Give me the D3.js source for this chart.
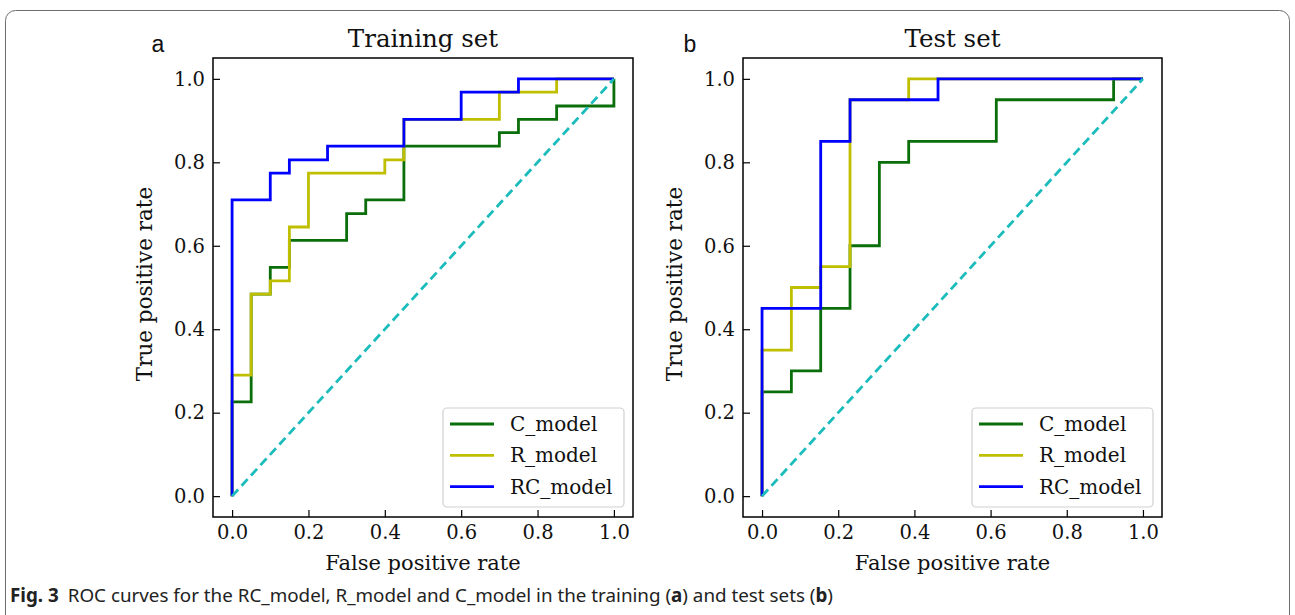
<!DOCTYPE html>
<html>
<head>
<meta charset="utf-8">
<script src="https://cdn.jsdelivr.net/npm/d3@7"></script>
<style>
  body { margin: 0; background: #fff; }
  svg { display: block; }
</style>
</head>
<body>
<div id="chart"></div>
<script>
// ROC points (fpr, tpr corners of each step curve)
var trainC_fpr = [0, 0, 0.05, 0.05, 0.1, 0.1, 0.15, 0.15, 0.3, 0.3, 0.35, 0.35, 0.45, 0.45, 0.7, 0.7, 0.75, 0.75, 0.85, 0.85, 1, 1];
var trainC_tpr = [0, 0.226, 0.226, 0.484, 0.484, 0.548, 0.548, 0.613, 0.613, 0.677, 0.677, 0.71, 0.71, 0.839, 0.839, 0.871, 0.871, 0.903, 0.903, 0.935, 0.935, 1];
var trainR_fpr = [0, 0, 0.05, 0.05, 0.1, 0.1, 0.15, 0.15, 0.2, 0.2, 0.4, 0.4, 0.45, 0.45, 0.7, 0.7, 0.85, 0.85, 1];
var trainR_tpr = [0, 0.29, 0.29, 0.484, 0.484, 0.516, 0.516, 0.645, 0.645, 0.774, 0.774, 0.806, 0.806, 0.903, 0.903, 0.968, 0.968, 1, 1];
var trainRC_fpr = [0, 0, 0.1, 0.1, 0.15, 0.15, 0.25, 0.25, 0.45, 0.45, 0.6, 0.6, 0.75, 0.75, 1];
var trainRC_tpr = [0, 0.71, 0.71, 0.774, 0.774, 0.806, 0.806, 0.839, 0.839, 0.903, 0.903, 0.968, 0.968, 1, 1];

var testC_fpr = [0, 0, 0.077, 0.077, 0.154, 0.154, 0.231, 0.231, 0.308, 0.308, 0.385, 0.385, 0.615, 0.615, 0.923, 0.923, 1];
var testC_tpr = [0, 0.25, 0.25, 0.3, 0.3, 0.45, 0.45, 0.6, 0.6, 0.8, 0.8, 0.85, 0.85, 0.95, 0.95, 1, 1];
var testR_fpr = [0, 0, 0.077, 0.077, 0.154, 0.154, 0.231, 0.231, 0.385, 0.385, 1];
var testR_tpr = [0, 0.35, 0.35, 0.5, 0.5, 0.55, 0.55, 0.95, 0.95, 1, 1];
var testRC_fpr = [0, 0, 0.154, 0.154, 0.231, 0.231, 0.462, 0.462, 1];
var testRC_tpr = [0, 0.45, 0.45, 0.85, 0.85, 0.95, 0.95, 1, 1];

var models = ["C_model", "R_model", "RC_model"];
var colors = ["#0a6e0a", "#bfbf00", "#0000ff"];
var ticks = [0, 0.2, 0.4, 0.6, 0.8, 1.0];

// caption pieces: [text, bold]
var captionParts = [
  ["Fig. 3", true],
  ["ROC curves for the RC_model, R_model and C_model in the training (", false],
  ["a", true],
  [") and test sets (", false],
  ["b", true],
  [")", false]
];

var width = 1295, height = 615;
var serif = "'DejaVu Serif', serif";

var svg = d3.select("#chart").append("svg")
    .attr("width", width)
    .attr("height", height);

// figure frame (rounded, open at the bottom edge)
svg.append("rect")
    .attr("x", 5.5).attr("y", 10.5)
    .attr("width", 1284).attr("height", 620)
    .attr("rx", 10).attr("ry", 10)
    .attr("fill", "none")
    .attr("stroke", "#6e6e6e")
    .attr("stroke-width", 1);

function drawPanel(opt) {
  var x = d3.scaleLinear().domain([-0.05, 1.05]).range([opt.left, opt.right]);
  var y = d3.scaleLinear().domain([-0.05, 1.05]).range([517, 58]);
  var g = svg.append("g");

  var xAxis = d3.axisBottom(x).tickValues(ticks).tickFormat(d3.format(".1f"))
      .tickSizeInner(-7).tickSizeOuter(0).tickPadding(8);
  var yAxis = d3.axisLeft(y).tickValues(ticks).tickFormat(d3.format(".1f"))
      .tickSizeInner(-7).tickSizeOuter(0).tickPadding(8);

  var gx = g.append("g").attr("transform", "translate(0,517)").call(xAxis);
  var gy = g.append("g").attr("transform", "translate(" + opt.left + ",0)").call(yAxis);
  [gx, gy].forEach(function(a) {
    a.select(".domain").remove();
    a.selectAll("line").attr("stroke", "#000").attr("stroke-width", 1.2);
    a.selectAll("text").attr("font-family", serif).attr("font-size", 19.5).attr("fill", "#111");
  });

  var line = d3.line()
      .x(function(d) { return x(d[0]); })
      .y(function(d) { return y(d[1]); });

  opt.series.forEach(function(s, i) {
    var pts = d3.zip(s[0], s[1]);
    g.append("path")
        .datum(pts)
        .attr("d", line)
        .attr("fill", "none")
        .attr("stroke", colors[i])
        .attr("stroke-width", 2.8)
        .attr("stroke-linejoin", "miter");
  });

  // chance line
  g.append("path")
      .datum([[0, 0], [1, 1]])
      .attr("d", line)
      .attr("fill", "none")
      .attr("stroke", "#1cbcbc")
      .attr("stroke-width", 2.8)
      .attr("stroke-dasharray", "9,5");

  // axes frame
  g.append("rect")
      .attr("x", opt.left).attr("y", 58)
      .attr("width", opt.right - opt.left).attr("height", 517 - 58)
      .attr("fill", "none")
      .attr("stroke", "#000")
      .attr("stroke-width", 1.5);

  // legend
  var lg = g.append("g");
  lg.append("rect")
      .attr("x", opt.legX).attr("y", 408)
      .attr("width", 181).attr("height", 99)
      .attr("rx", 4)
      .attr("fill", "#fff")
      .attr("stroke", "#d0d0d0")
      .attr("stroke-width", 1.2);
  models.forEach(function(m, i) {
    var ly = 424 + i * 31.3;
    lg.append("line")
        .attr("x1", opt.legX + 7).attr("x2", opt.legX + 51)
        .attr("y1", ly).attr("y2", ly)
        .attr("stroke", colors[i])
        .attr("stroke-width", 2.8);
    lg.append("text")
        .attr("x", opt.legX + 67).attr("y", ly)
        .attr("dy", "0.35em")
        .attr("font-family", serif)
        .attr("font-size", 20)
        .attr("fill", "#111")
        .text(m);
  });

  var cx = (opt.left + opt.right) / 2;
  g.append("text")
      .attr("x", cx).attr("y", 47)
      .attr("text-anchor", "middle")
      .attr("font-family", serif)
      .attr("font-size", 24.5)
      .attr("fill", "#111")
      .text(opt.title);

  g.append("text")
      .attr("x", cx).attr("y", 570)
      .attr("text-anchor", "middle")
      .attr("font-family", serif)
      .attr("font-size", 21)
      .attr("fill", "#111")
      .text("False positive rate");

  g.append("text")
      .attr("transform", "translate(" + (opt.left - 61) + ",284) rotate(-90)")
      .attr("text-anchor", "middle")
      .attr("font-family", serif)
      .attr("font-size", 21.5)
      .attr("fill", "#111")
      .text("True positive rate");

  g.append("text")
      .attr("x", opt.tag[0]).attr("y", opt.tag[1])
      .attr("text-anchor", "middle")
      .attr("font-family", "'Liberation Sans', Arial, sans-serif")
      .attr("font-size", 23)
      .attr("fill", "#111")
      .text(opt.tagText);
}

drawPanel({
  left: 213, right: 633, legX: 443, title: "Training set",
  tag: [158, 52], tagText: "a",
  series: [[trainC_fpr, trainC_tpr], [trainR_fpr, trainR_tpr], [trainRC_fpr, trainRC_tpr]]
});
drawPanel({
  left: 743, right: 1162, legX: 972, title: "Test set",
  tag: [690, 52], tagText: "b",
  series: [[testC_fpr, testC_tpr], [testR_fpr, testR_tpr], [testRC_fpr, testRC_tpr]]
});

// caption: separate text pieces laid out one after another, sized to the reference width
var capG = svg.append("g");
var capTexts = capG.selectAll("text")
  .data(captionParts)
  .enter()
  .append("text")
    .attr("y", 602)
    .attr("font-family", "'Noto Sans', 'Open Sans', sans-serif")
    .attr("font-size", 16)
    .attr("font-weight", function(d) { return d[1] ? "bold" : "normal"; })
    .attr("fill", "#222")
    .text(function(d) { return d[0]; });

var gap = 9, target = 824;
var widths = [];
capTexts.each(function() { widths.push(this.getComputedTextLength()); });
var total = d3.sum(widths) + gap;
var k = (target - gap) / (total - gap);
capTexts.attr("font-size", 16 * k);
widths = [];
capTexts.each(function() { widths.push(this.getComputedTextLength()); });
var cx0 = 10;
capTexts.each(function(d, i) {
  d3.select(this).attr("x", cx0);
  cx0 += widths[i] + (i === 0 ? gap : 0);
});
</script>
</body>
</html>
